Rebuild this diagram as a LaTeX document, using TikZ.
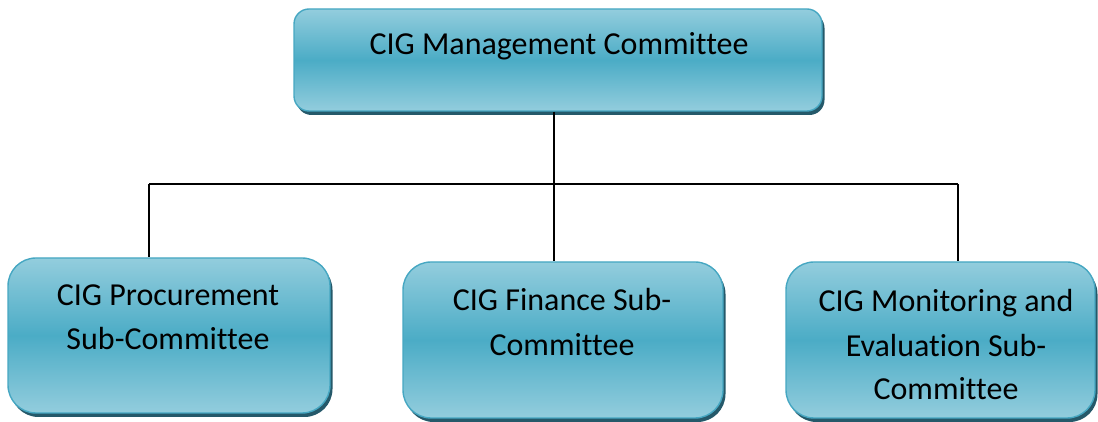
\documentclass[tikz,border=0pt]{standalone}
\usepackage{fontspec}
\setmainfont[Ligatures={NoCommon}]{Carlito}
\usetikzlibrary{shadows}
\definecolor{boxlight}{HTML}{93CDDD}
\definecolor{boxmid}{HTML}{4BACC6}
\definecolor{boxedge}{HTML}{46A7C2}
\definecolor{boxshadow}{HTML}{25596A}
\tikzset{
  orgbox/.style={draw=boxedge, line width=1.4pt, inner sep=0pt,
    top color=boxlight, bottom color=boxlight, middle color=boxmid,
    drop shadow={shadow xshift=2.5pt, shadow yshift=-4pt, fill=boxshadow, opacity=1}},
  lbl/.style={anchor=base, inner sep=0pt, font=\fontsize{32}{44}\selectfont},
  conn/.style={draw=black, line width=1.6pt}
}
\begin{document}
\begin{tikzpicture}[x=1pt,y=1pt]
\useasboundingbox (0,0) rectangle (1098,422);
% boxes
\node[orgbox, rounded corners=15pt, minimum width=528pt, minimum height=102pt] (top) at (558,362) {};
\node[orgbox, rounded corners=28pt, minimum width=322pt, minimum height=155pt] (left) at (169,86.5) {};
\node[orgbox, rounded corners=28pt, minimum width=320pt, minimum height=156pt] (mid) at (563,82) {};
\node[orgbox, rounded corners=28pt, minimum width=309pt, minimum height=156pt] (right) at (940.5,82) {};
% labels
\node[lbl] (t1) at (559,367) {CIG Management Committee};
\node[lbl] (l1) at (168,116) {CIG Procurement};
\node[lbl] (l2) at (168,72) {Sub-Committee};
\node[lbl] (m1) at (562,111) {CIG Finance Sub-};
\node[lbl] (m2) at (562,66) {Committee};
\node[lbl] (r1) at (946,110) {CIG Monitoring and};
\node[lbl] (r2) at (946,65) {Evaluation Sub-};
\node[lbl] (r3) at (946,22) {Committee};
% connectors
\coordinate (j) at (554,238);
\coordinate (hl) at (149,238);
\coordinate (hr) at (958,238);
\draw[conn] (j |- top.south) -- (j);
\draw[conn] (hl) -- (hr);
\draw[conn] (hl) -- (hl |- left.north);
\draw[conn] (j) -- (j |- mid.north);
\draw[conn] (hr) -- (hr |- right.north);
\end{tikzpicture}
\end{document}
